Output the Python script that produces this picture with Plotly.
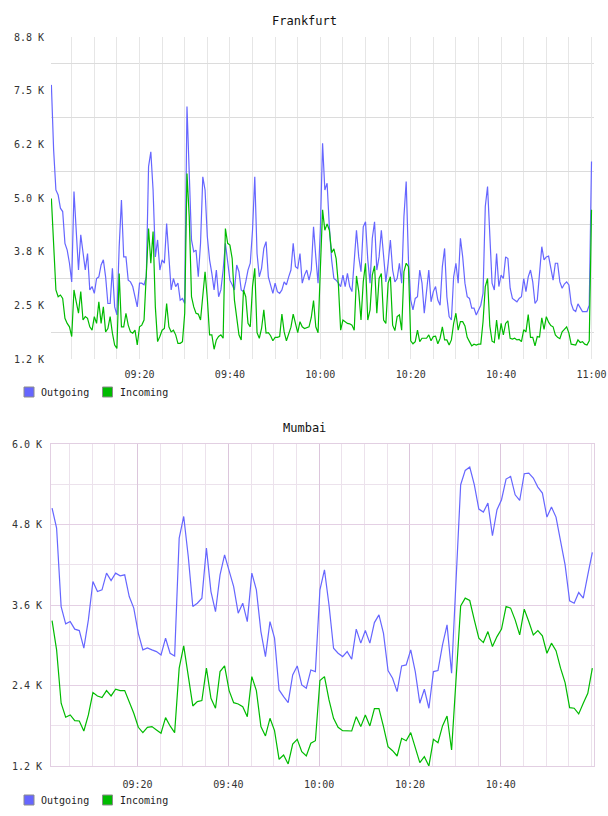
import pandas as pd
import plotly.graph_objects as go

# ---------------- data ----------------
# Frankfurt: samples every 30 s from 09:00:30 to 11:00:00
FRA_START = "2024-01-01 09:00:30"
FRA_OUT = [
    7670, 6130, 5190, 5070, 4760, 4680, 3930, 3770, 3460, 3020,
    5150, 4320, 3300, 4130, 3690, 3300, 3690, 2830, 2910, 2750,
    3100, 3140, 3420, 3540, 3140, 2510, 2510, 3340, 2430, 2240,
    3850, 4950, 3610, 3610, 3060, 3020, 2910, 2670, 2430, 2990,
    2990, 2950, 3140, 5740, 6090, 5190, 3610, 4010, 3300, 3540,
    3460, 4400, 3460, 2830, 3100, 2910, 2990, 2590, 2630, 2510,
    7160,
    5420, 4010, 3730, 3770, 3140, 3930, 5500, 5190, 4090, 3540,
    3220, 2830, 3300, 2670, 2830, 3300, 3930, 3540, 3060, 2950,
    2830, 3420, 3260, 2830, 2790, 3020, 3300, 3460, 4240, 5500,
    3690, 3140, 3340, 3810, 3970, 3140, 2950, 2750, 2990, 2790,
    2750, 2830, 3020, 2950, 3140, 3300, 3930, 3380, 3340, 3690,
    2990, 3180, 3300, 3060, 3300, 4320, 3610, 2990, 4240,
    6290, 5190, 5350, 4320, 3540, 3100, 3060, 2990, 2910, 3180,
    2910, 3220, 2910, 2790, 3460, 4240, 3610, 3260, 4320, 4440,
    3540, 2990, 4050, 4440, 3300, 3610, 4240, 3540, 3020, 3460,
    4010, 3300, 3020, 3100, 3460, 2990, 4560, 5390, 3540, 2590,
    2360, 2630, 2670, 3300, 2990, 2280, 2830, 3300, 2550, 2790,
    2910, 2590, 2470, 3380, 3810, 2670, 2200, 2120, 3140, 3460,
    2990,
    4050, 3610, 2990, 2670, 2630, 2400, 2400, 2240, 2360, 2470,
    2750, 4800, 5270, 4090, 2990, 2830, 3690, 2910, 3180, 3100,
    3610, 3570, 2870, 2630, 2590, 2550, 2630, 2670, 3100, 2790,
    3140, 3300, 3020, 2510, 2590, 3140, 3850, 3540, 3610, 3630,
    3300, 3060, 3460, 3460, 3020, 2870, 2970, 3020, 2950, 2510,
    2360, 2320, 2500, 2400, 2320, 2320, 2320, 2470, 5860,
]
FRA_IN = [
    4990, 4010, 2830, 2670, 2710, 2630, 2160, 2040, 1960, 1730,
    2830, 2550, 2280, 2790, 2120, 2200, 2160, 1960, 1880, 2200,
    2040, 2550, 2040, 2430, 1840, 1920, 2200, 1810, 1530, 1450,
    3220, 1960, 1960, 2280, 2000, 1840, 1810, 1880, 1530, 1960,
    2000, 2120, 3300, 4280, 3460, 4210, 2430, 1610, 1730, 1880,
    1920, 2510, 1960, 1840, 1880, 1770, 1570, 1570, 1610, 2280,
    5580,
    4560, 2670, 2430, 2280, 2260, 2120, 2750, 3260, 2630, 1770,
    1770, 1430, 1650, 1730, 1770, 1690, 4280, 3930, 3890, 3570,
    2590, 2200, 1770, 1650, 2830, 2670, 2040, 1960, 2910, 3340,
    1820, 1690, 1920, 2360, 1810, 1820, 1750, 1630, 1710, 1710,
    1730, 2260, 1840, 1630, 1810, 1950, 2260, 2040, 1820, 2080,
    1960, 1920, 1950, 1960, 2180, 2580, 1960, 1820, 3300,
    4720, 4240, 4390, 4240, 3710, 3800, 3570, 2950, 1880, 2120,
    2080, 2040, 2030, 2000, 1880, 3160, 2790, 2120, 3020, 3460,
    2120, 2360, 3180, 3400, 2280, 3100, 3220, 2120, 2040, 2990,
    3140, 2000, 1870, 2200, 2240, 1880, 3260, 3460, 3380, 1630,
    1560, 1610, 1880, 1610, 1690, 1690, 1690, 1770, 1630, 1730,
    1740, 1560, 1690, 1960, 1650, 1650, 1530, 1650, 2040, 2280,
    1880,
    2080, 2080, 1980, 1710, 1610, 1510, 1550, 1530, 1550, 1550,
    2080, 2910, 3100, 1980, 1620, 1590, 2120, 1660, 2040, 1770,
    2040, 2100, 1690, 1670, 1690, 1650, 1660, 1610, 1890, 1840,
    2250, 1710, 1710, 1510, 1730, 1720, 2170, 1900, 2200, 2070,
    1990, 1960, 1770, 1710, 1680, 1840, 1900, 1960, 1810, 1550,
    1540, 1530, 1650, 1590, 1610, 1550, 1530, 1630, 4720,
]

# Mumbai: samples every minute from 09:01:10
MUM_START = "2024-01-01 09:01:10"
MUM_OUT = [
    5045, 4747, 3577, 3319, 3353, 3240, 3219, 2956, 3378, 3950,
    3800, 3826, 4075, 3965, 4075, 4035, 4050, 3726, 3553, 3178,
    2931, 2960, 2931, 2905, 2856, 3105, 2881, 2841, 4597, 4920,
    4323, 3577, 3627, 3702, 4448, 3800, 3500, 4050, 4348, 4124,
    3875, 3478, 3627, 3353, 4075, 3826, 3204, 2831, 3353, 3105,
    2334, 2234, 2144, 2558, 2692, 2409, 2359, 2632, 2607, 3826,
    4124, 3600, 2956, 2881, 2831, 2905, 2792, 3240, 3031, 3219,
    3031, 3338, 3453, 3178, 2622, 2508, 2309, 2692, 2707, 2931,
    2607, 2136, 2344, 2061, 2607, 2622, 3005, 3304, 2583, 3990,
    5393, 5606, 5656, 5393, 5030, 4985, 5119, 4632, 5020, 5169,
    5477, 5516, 5243, 5158, 5557, 5567, 5492, 5358, 5269, 4910,
    5060, 4910, 4547, 4199, 3662, 3627, 3786, 3702, 4050, 4383,
]
MUM_IN = [
    3368, 2931, 2136, 1927, 1961, 1876, 1871, 1722, 1961, 2294,
    2244, 2219, 2324, 2244, 2344, 2324, 2324, 2160, 1986, 1777,
    1697, 1777, 1787, 1737, 1688, 1921, 1797, 1697, 2658, 2990,
    2533, 2095, 2160, 2175, 2658, 2210, 2061, 2607, 2692, 2324,
    2144, 2125, 2085, 1936, 2533, 2324, 1787, 1648, 1911, 1727,
    1300, 1364, 1230, 1528, 1598, 1413, 1349, 1539, 1577, 2473,
    2533, 2185, 1911, 1777, 1727, 1722, 1722, 1936, 1787, 1961,
    1797, 2056, 2056, 1787, 1488, 1428, 1349, 1613, 1577, 1697,
    1488, 1250, 1339, 1200, 1598, 1548, 1797, 1946, 1439, 2500,
    3587, 3702, 3667, 3378, 3105, 3040, 3204, 2980, 3129, 3240,
    3577, 3553, 3378, 3155, 3538, 3353, 3155, 3219, 3140, 2881,
    3031, 2920, 2658, 2443, 2070, 2061, 1976, 2136, 2284, 2658,
]

SERIES = ["Outgoing", "Incoming"]
TITLES = ["Frankfurt", "Mumbai"]

FRA_YTICKS = [1200 + i * 7600 / 6 for i in range(7)]
FRA_YTEXT = ["1.2 K", "2.5 K", "3.8 K", "5.0 K", "6.2 K", "7.5 K", "8.8 K"]
FRA_YGRID = [1200 + (2 * i + 1) * 7600 / 12 for i in range(6)]
FRA_XTICKS = ["2024-01-01 09:20", "2024-01-01 09:40", "2024-01-01 10:00",
              "2024-01-01 10:20", "2024-01-01 10:40", "2024-01-01 11:00"]
MUM_YTICKS = [1200, 2400, 3600, 4800, 6000]
MUM_YTEXT = ["1.2 K", "2.4 K", "3.6 K", "4.8 K", "6.0 K"]
MUM_XTICKS = FRA_XTICKS[:5]

# ---------------- styling ----------------
BLUE = "#6666ff"
GREEN = "#00bb00"
MONO = "DejaVu Sans Mono"
W, HT = 608, 816
ML, MR, MT, MB = 51, 14, 37, 50
PW = W - ML - MR
PH = HT - MT - MB


def px(xpix):
    return (xpix - ML) / PW


def py(ypix):
    return (HT - MB - ypix) / PH


fra_t = pd.date_range(FRA_START, periods=len(FRA_OUT), freq="30s")
mum_t = pd.date_range(MUM_START, periods=len(MUM_OUT), freq="1min")

fig = go.Figure()
for xs, ys, name, col, xa, ya in (
    (fra_t, FRA_OUT, SERIES[0], BLUE, "x", "y"),
    (fra_t, FRA_IN, SERIES[1], GREEN, "x", "y"),
    (mum_t, MUM_OUT, SERIES[0], BLUE, "x2", "y2"),
    (mum_t, MUM_IN, SERIES[1], GREEN, "x2", "y2"),
):
    fig.add_trace(go.Scatter(x=xs, y=ys, mode="lines", name=name,
                             line=dict(color=col, width=1.2),
                             xaxis=xa, yaxis=ya, showlegend=False))

tickfont = dict(family=MONO, size=10, color="#333333")

# legends drawn as swatches + text under each chart
shapes, annotations = [], []
for ycen in (392, 800):
    for name, col, sx, tx in ((SERIES[0], BLUE, 24, 39), (SERIES[1], GREEN, 102.5, 118)):
        shapes.append(dict(type="rect", xref="paper", yref="paper",
                           x0=px(sx), x1=px(sx + 10), y0=py(ycen + 5), y1=py(ycen - 5),
                           fillcolor=col, line=dict(color="#8c8c8c", width=1)))
        annotations.append(dict(text=name, xref="paper", yref="paper", x=px(tx),
                                y=py(ycen), xanchor="left", yanchor="middle",
                                showarrow=False,
                                font=dict(family=MONO, size=10, color="#222222")))

for title, ycen in zip(TITLES, (20.5, 428.5)):
    annotations.append(dict(text=title, xref="paper", yref="paper", x=px(304),
                            y=py(ycen), xanchor="center", yanchor="middle",
                            showarrow=False,
                            font=dict(family=MONO, size=12, color="#111111")))

fig.update_layout(
    width=W, height=HT,
    margin=dict(l=ML, r=MR, t=MT, b=MB, autoexpand=False),
    paper_bgcolor="white", plot_bgcolor="white",
    font=dict(family=MONO, size=10, color="#222222"),
    showlegend=False,
    xaxis=dict(domain=[0, 1], anchor="y", type="date",
               range=["2024-01-01 09:00:25", "2024-01-01 11:00:33"],
               tickmode="array", tickvals=FRA_XTICKS, tickformat="%H:%M",
               showgrid=True, gridcolor="#e6e6e6", gridwidth=1,
               minor=dict(dtick=300000, showgrid=True, gridcolor="#e6e6e6"),
               ticks="", showline=False, zeroline=False, tickfont=tickfont,
               ticklabelstandoff=8),
    yaxis=dict(domain=[py(359), 1], anchor="x", range=[1200, 8800],
               tickmode="array", tickvals=FRA_YTICKS, ticktext=FRA_YTEXT,
               showgrid=False,
               minor=dict(tickmode="array", tickvals=FRA_YGRID, showgrid=True,
                          gridcolor="#dcdcdc"),
               ticks="", showline=False, zeroline=False, tickfont=tickfont,
               ticklabelstandoff=6),
    xaxis2=dict(domain=[0, 1], anchor="y2", type="date",
                range=["2024-01-01 09:00:56", "2024-01-01 11:00:32"],
                tickmode="array", tickvals=MUM_XTICKS, tickformat="%H:%M",
                showgrid=True, gridcolor="#dcc6dc", gridwidth=1,
                minor=dict(dtick=300000, showgrid=True, gridcolor="#ece2ec"),
                ticks="", showline=True, mirror=True, linecolor="#e2cfe2",
                zeroline=False, tickfont=tickfont, ticklabelstandoff=9),
    yaxis2=dict(domain=[0, py(444)], anchor="x2", range=[1200, 6000],
                tickmode="array", tickvals=MUM_YTICKS, ticktext=MUM_YTEXT,
                showgrid=True, gridcolor="#e4d0e4",
                minor=dict(dtick=600, tick0=1200, showgrid=True, gridcolor="#ece2ec"),
                ticks="", showline=True, mirror=True, linecolor="#e2cfe2",
                zeroline=False, tickfont=tickfont, ticklabelstandoff=6),
    shapes=shapes,
    annotations=annotations,
)

fig.write_html("out.html")
